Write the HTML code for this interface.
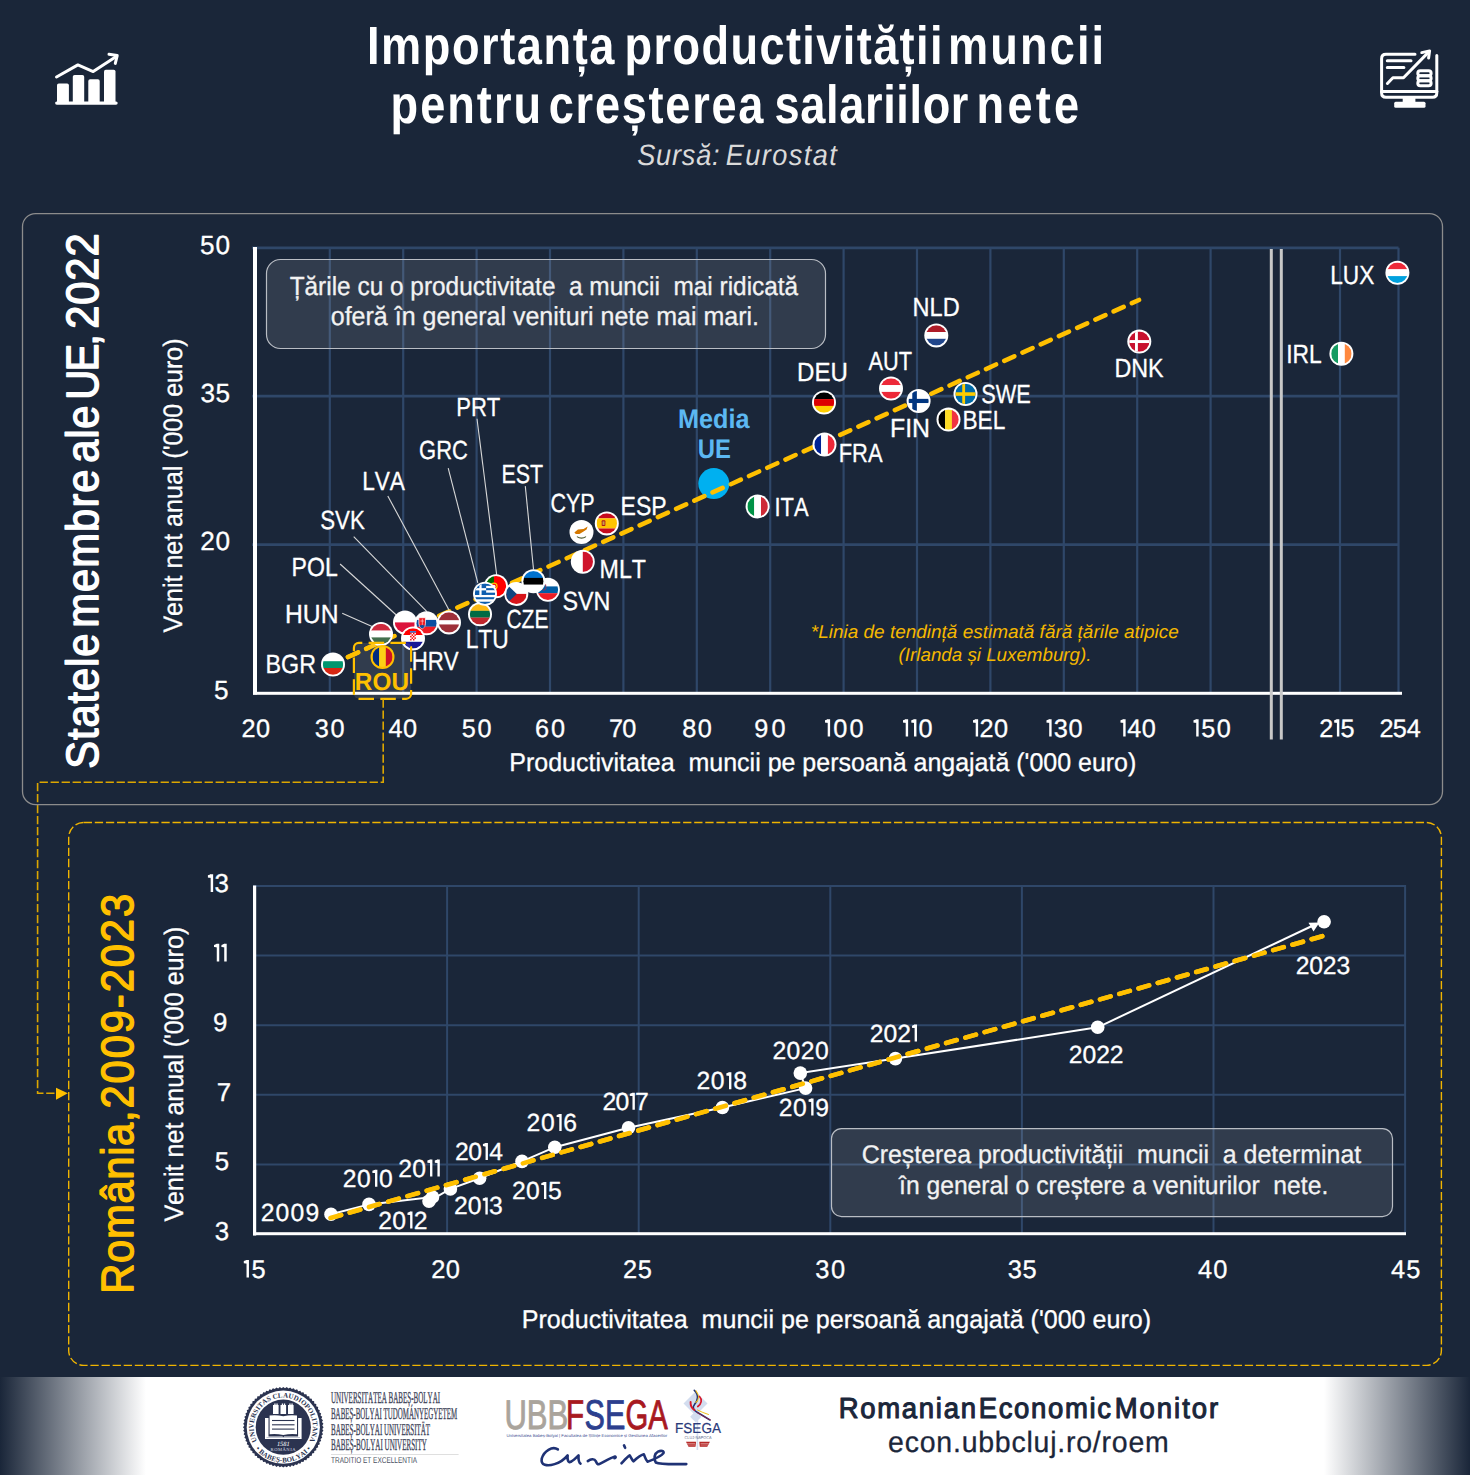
<!DOCTYPE html>
<html><head><meta charset="utf-8"><title>Importanța productivității muncii</title>
<style>html,body{margin:0;padding:0;background:#1a2639;width:1470px;height:1475px;overflow:hidden}</style>
</head><body>
<svg width="1470" height="1475" viewBox="0 0 1470 1475" style="display:block;font-family:'Liberation Sans', sans-serif;font-kerning:none" text-rendering="geometricPrecision">
<defs><clipPath id="fc" clipPathUnits="userSpaceOnUse"><circle r="1"/></clipPath>
<linearGradient id="fl" x1="0" x2="1" y1="0" y2="0"><stop offset="0" stop-color="#1a2639"/><stop offset="1" stop-color="#ffffff"/></linearGradient>
<linearGradient id="fr" x1="0" x2="1" y1="0" y2="0"><stop offset="0" stop-color="#ffffff"/><stop offset="1" stop-color="#1a2639"/></linearGradient>
<clipPath id="euclip"><circle cx="713.8" cy="483.6" r="15.5"/></clipPath><clipPath id="rouclip"><rect x="340" y="641" width="30" height="30"/></clipPath></defs>
<rect width="1470" height="1475" fill="#1a2639"/>
<text transform="translate(366.98 63.60) scale(0.840 1)" x="0" y="0" font-size="53.78" font-weight="bold" font-style="normal" fill="#fff" letter-spacing="1.854" style="white-space:pre">Importanța</text>
<text transform="translate(624.62 63.60) scale(0.840 1)" x="0" y="0" font-size="53.78" font-weight="bold" font-style="normal" fill="#fff" letter-spacing="1.642" style="white-space:pre">productivității</text>
<text transform="translate(948.02 63.60) scale(0.840 1)" x="0" y="0" font-size="53.78" font-weight="bold" font-style="normal" fill="#fff" letter-spacing="2.522" style="white-space:pre">muncii</text>
<text transform="translate(390.62 123.00) scale(0.840 1)" x="0" y="0" font-size="53.78" font-weight="bold" font-style="normal" fill="#fff" letter-spacing="2.363" style="white-space:pre">pentru</text>
<text transform="translate(548.74 123.00) scale(0.840 1)" x="0" y="0" font-size="53.78" font-weight="bold" font-style="normal" fill="#fff" letter-spacing="2.058" style="white-space:pre">creșterea</text>
<text transform="translate(774.61 123.00) scale(0.840 1)" x="0" y="0" font-size="53.78" font-weight="bold" font-style="normal" fill="#fff" letter-spacing="0.733" style="white-space:pre">salariilor</text>
<text transform="translate(976.52 123.00) scale(0.840 1)" x="0" y="0" font-size="53.78" font-weight="bold" font-style="normal" fill="#fff" letter-spacing="3.903" style="white-space:pre">nete</text>
<text transform="translate(637.23 165.00) scale(0.920 1)" x="0" y="0" font-size="29.51" font-weight="normal" font-style="italic" fill="#dadada" letter-spacing="0.848" style="white-space:pre">Sursă:</text>
<text transform="translate(725.66 165.00) scale(0.920 1)" x="0" y="0" font-size="29.51" font-weight="normal" font-style="italic" fill="#dadada" letter-spacing="1.553" style="white-space:pre">Eurostat</text>
<g fill="#fff">
<rect x="55.1" y="101.4" width="62.6" height="3.4" rx="1.7"/>
<rect x="57.0" y="83.4" width="11.9" height="19.6" rx="1.8"/>
<rect x="72.8" y="74.9" width="11.4" height="28.1" rx="1.8"/>
<rect x="88.3" y="79.3" width="11.4" height="23.7" rx="1.8"/>
<rect x="104.0" y="69.8" width="11.5" height="33.2" rx="1.8"/>
</g>
<g fill="none" stroke="#fff" stroke-width="3" stroke-linecap="round" stroke-linejoin="round">
<polyline points="56.5,77 77.9,64.9 93.2,71.6 115.5,57"/>
<polyline points="109,54.2 117.2,55.6 115.3,63.4"/>
</g>
<g fill="none" stroke="#fff" stroke-width="3" stroke-linecap="round" stroke-linejoin="round">
<path d="M1415 54.3 H1386 Q1381.6 54.3 1381.6 58.7 V93 Q1381.6 97.3 1386 97.3 H1432.5 Q1436.8 97.3 1436.8 93 V55.5"/>
<path d="M1381.6 91.4 H1436.8"/>
<path d="M1387.3 60.7 H1411 M1387.3 67.5 H1403.9"/>
<polyline points="1387.4,83.5 1392.9,77.8 1403.5,77.8 1428.3,52.4"/>
<polyline points="1421.8,52.6 1429.6,50.9 1428.6,58"/>
<rect x="1417.8" y="70.8" width="13.3" height="5" rx="2.5"/>
<rect x="1417.8" y="75.8" width="13.3" height="5" rx="2.5"/>
<rect x="1417.8" y="80.8" width="13.3" height="5" rx="2.5"/>
</g>
<rect x="1402.7" y="98" width="12.7" height="5" fill="#fff"/>
<rect x="1394.2" y="101.8" width="31.3" height="6" rx="1.5" fill="#fff"/>
<g stroke="#2f4769" stroke-width="2.7">
<line x1="252" x2="1398.5" y1="247.80" y2="247.80"/>
<line x1="252" x2="1398.5" y1="396.17" y2="396.17"/>
<line x1="252" x2="1398.5" y1="544.53" y2="544.53"/>
</g><g stroke="#2f4769" stroke-width="2.2">
<line x1="329.80" x2="329.80" y1="247.8" y2="692"/>
<line x1="403.20" x2="403.20" y1="247.8" y2="692"/>
<line x1="476.60" x2="476.60" y1="247.8" y2="692"/>
<line x1="550.00" x2="550.00" y1="247.8" y2="692"/>
<line x1="623.40" x2="623.40" y1="247.8" y2="692"/>
<line x1="696.80" x2="696.80" y1="247.8" y2="692"/>
<line x1="770.20" x2="770.20" y1="247.8" y2="692"/>
<line x1="843.60" x2="843.60" y1="247.8" y2="692"/>
<line x1="917.00" x2="917.00" y1="247.8" y2="692"/>
<line x1="990.40" x2="990.40" y1="247.8" y2="692"/>
<line x1="1063.80" x2="1063.80" y1="247.8" y2="692"/>
<line x1="1137.20" x2="1137.20" y1="247.8" y2="692"/>
<line x1="1210.60" x2="1210.60" y1="247.8" y2="692"/>
<line x1="1340.00" x2="1340.00" y1="247.8" y2="692"/>
<line x1="1398.50" x2="1398.50" y1="247.8" y2="692"/>
</g>
<rect x="253" y="247" width="4" height="447.5" fill="#fff"/>
<rect x="253" y="691.8" width="1149" height="3" fill="#fff"/>
<rect x="266.5" y="259.5" width="559" height="89" rx="14" fill="#ffffff" fill-opacity="0.1" stroke="#b9bdc4" stroke-width="1.2"/>
<text x="289.65" y="294.50" font-size="26.16" font-weight="normal" font-style="normal" fill="#f2f2f2" stroke="#f2f2f2" stroke-width="0.30" stroke-linejoin="round" textLength="508.55" lengthAdjust="spacingAndGlyphs" style="white-space:pre">Țările cu o productivitate  a muncii  mai ridicată</text>
<text x="330.75" y="325.10" font-size="26.16" font-weight="normal" font-style="normal" fill="#f2f2f2" stroke="#f2f2f2" stroke-width="0.30" stroke-linejoin="round" textLength="428.23" lengthAdjust="spacingAndGlyphs">oferă în general venituri nete mai mari.</text>
<text x="810.79" y="638.30" font-size="18.60" font-weight="normal" font-style="italic" fill="#f5b800" textLength="368.02" lengthAdjust="spacingAndGlyphs">*Linia de tendință estimată fără țările atipice</text>
<text x="898.62" y="660.60" font-size="18.60" font-weight="normal" font-style="italic" fill="#f5b800" textLength="192.88" lengthAdjust="spacingAndGlyphs">(Irlanda și Luxemburg).</text>
<text transform="translate(199.95 253.60) scale(1.000 1)" font-size="26.16" font-weight="normal" fill="#fff" stroke="#fff" stroke-width="0.30" stroke-linejoin="round">5</text>
<text transform="translate(215.47 253.60) scale(1.000 1)" font-size="26.16" font-weight="normal" fill="#fff" stroke="#fff" stroke-width="0.30" stroke-linejoin="round">0</text>
<text transform="translate(200.60 401.97) scale(1.000 1)" font-size="26.16" font-weight="normal" fill="#fff" stroke="#fff" stroke-width="0.30" stroke-linejoin="round">3</text>
<text transform="translate(215.55 401.97) scale(1.000 1)" font-size="26.16" font-weight="normal" fill="#fff" stroke="#fff" stroke-width="0.30" stroke-linejoin="round">5</text>
<text transform="translate(200.28 550.33) scale(1.000 1)" font-size="26.16" font-weight="normal" fill="#fff" stroke="#fff" stroke-width="0.30" stroke-linejoin="round">2</text>
<text transform="translate(215.47 550.33) scale(1.000 1)" font-size="26.16" font-weight="normal" fill="#fff" stroke="#fff" stroke-width="0.30" stroke-linejoin="round">0</text>
<text transform="translate(213.95 698.70) scale(1.000 1)" font-size="26.16" font-weight="normal" fill="#fff" stroke="#fff" stroke-width="0.30" stroke-linejoin="round">5</text>
<text transform="translate(241.53 736.60) scale(1.000 1)" font-size="25.29" font-weight="normal" fill="#fff" stroke="#fff" stroke-width="0.30" stroke-linejoin="round">2</text>
<text transform="translate(255.92 736.60) scale(1.000 1)" font-size="25.29" font-weight="normal" fill="#fff" stroke="#fff" stroke-width="0.30" stroke-linejoin="round">0</text>
<text transform="translate(314.74 736.60) scale(1.000 1)" font-size="25.29" font-weight="normal" fill="#fff" stroke="#fff" stroke-width="0.30" stroke-linejoin="round">3</text>
<text transform="translate(330.42 736.60) scale(1.000 1)" font-size="25.29" font-weight="normal" fill="#fff" stroke="#fff" stroke-width="0.30" stroke-linejoin="round">0</text>
<text transform="translate(388.62 736.60) scale(1.000 1)" font-size="25.29" font-weight="normal" fill="#fff" stroke="#fff" stroke-width="0.30" stroke-linejoin="round">4</text>
<text transform="translate(403.02 736.60) scale(1.000 1)" font-size="25.29" font-weight="normal" fill="#fff" stroke="#fff" stroke-width="0.30" stroke-linejoin="round">0</text>
<text transform="translate(461.69 736.60) scale(1.000 1)" font-size="25.29" font-weight="normal" fill="#fff" stroke="#fff" stroke-width="0.30" stroke-linejoin="round">5</text>
<text transform="translate(477.52 736.60) scale(1.000 1)" font-size="25.29" font-weight="normal" fill="#fff" stroke="#fff" stroke-width="0.30" stroke-linejoin="round">0</text>
<text transform="translate(535.02 736.60) scale(1.000 1)" font-size="25.29" font-weight="normal" fill="#fff" stroke="#fff" stroke-width="0.30" stroke-linejoin="round">6</text>
<text transform="translate(551.02 736.60) scale(1.000 1)" font-size="25.29" font-weight="normal" fill="#fff" stroke="#fff" stroke-width="0.30" stroke-linejoin="round">0</text>
<text transform="translate(609.10 736.60) scale(1.000 1)" font-size="25.29" font-weight="normal" fill="#fff" stroke="#fff" stroke-width="0.30" stroke-linejoin="round">7</text>
<text transform="translate(622.32 736.60) scale(1.000 1)" font-size="25.29" font-weight="normal" fill="#fff" stroke="#fff" stroke-width="0.30" stroke-linejoin="round">0</text>
<text transform="translate(682.30 736.60) scale(1.000 1)" font-size="25.29" font-weight="normal" fill="#fff" stroke="#fff" stroke-width="0.30" stroke-linejoin="round">8</text>
<text transform="translate(697.82 736.60) scale(1.000 1)" font-size="25.29" font-weight="normal" fill="#fff" stroke="#fff" stroke-width="0.30" stroke-linejoin="round">0</text>
<text transform="translate(754.31 736.60) scale(1.000 1)" font-size="25.29" font-weight="normal" fill="#fff" stroke="#fff" stroke-width="0.30" stroke-linejoin="round">9</text>
<text transform="translate(771.62 736.60) scale(1.000 1)" font-size="25.29" font-weight="normal" fill="#fff" stroke="#fff" stroke-width="0.30" stroke-linejoin="round">0</text>
<path d="M827.71 719.20 L830.12 719.20 L830.12 736.60 L827.71 736.60 L827.71 722.68 L825.00 722.20 Z" fill="#fff"/>
<path d="M825.00 720.26 L828.01 719.20 L828.01 722.49 L825.00 722.39 Z" fill="#fff"/>
<text transform="translate(833.33 736.60) scale(1.000 1)" font-size="25.29" font-weight="normal" fill="#fff" stroke="#fff" stroke-width="0.30" stroke-linejoin="round">0</text>
<text transform="translate(849.62 736.60) scale(1.000 1)" font-size="25.29" font-weight="normal" fill="#fff" stroke="#fff" stroke-width="0.30" stroke-linejoin="round">0</text>
<path d="M905.71 719.20 L908.12 719.20 L908.12 736.60 L905.71 736.60 L905.71 722.68 L903.00 722.20 Z" fill="#fff"/>
<path d="M903.00 720.26 L906.01 719.20 L906.01 722.49 L903.00 722.39 Z" fill="#fff"/>
<path d="M914.01 719.20 L916.43 719.20 L916.43 736.60 L914.01 736.60 L914.01 722.68 L911.31 722.20 Z" fill="#fff"/>
<path d="M911.31 720.26 L914.31 719.20 L914.31 722.49 L911.31 722.39 Z" fill="#fff"/>
<text transform="translate(918.62 736.60) scale(1.000 1)" font-size="25.29" font-weight="normal" fill="#fff" stroke="#fff" stroke-width="0.30" stroke-linejoin="round">0</text>
<path d="M975.71 719.20 L978.12 719.20 L978.12 736.60 L975.71 736.60 L975.71 722.68 L973.00 722.20 Z" fill="#fff"/>
<path d="M973.00 720.26 L976.01 719.20 L976.01 722.49 L973.00 722.39 Z" fill="#fff"/>
<text transform="translate(979.58 736.60) scale(1.000 1)" font-size="25.29" font-weight="normal" fill="#fff" stroke="#fff" stroke-width="0.30" stroke-linejoin="round">2</text>
<text transform="translate(994.12 736.60) scale(1.000 1)" font-size="25.29" font-weight="normal" fill="#fff" stroke="#fff" stroke-width="0.30" stroke-linejoin="round">0</text>
<path d="M1049.21 719.20 L1051.62 719.20 L1051.62 736.60 L1049.21 736.60 L1049.21 722.68 L1046.50 722.20 Z" fill="#fff"/>
<path d="M1046.50 720.26 L1049.51 719.20 L1049.51 722.49 L1046.50 722.39 Z" fill="#fff"/>
<text transform="translate(1053.66 736.60) scale(1.000 1)" font-size="25.29" font-weight="normal" fill="#fff" stroke="#fff" stroke-width="0.30" stroke-linejoin="round">3</text>
<text transform="translate(1068.62 736.60) scale(1.000 1)" font-size="25.29" font-weight="normal" fill="#fff" stroke="#fff" stroke-width="0.30" stroke-linejoin="round">0</text>
<path d="M1123.21 719.20 L1125.62 719.20 L1125.62 736.60 L1123.21 736.60 L1123.21 722.68 L1120.50 722.20 Z" fill="#fff"/>
<path d="M1120.50 720.26 L1123.51 719.20 L1123.51 722.49 L1120.50 722.39 Z" fill="#fff"/>
<text transform="translate(1127.21 736.60) scale(1.000 1)" font-size="25.29" font-weight="normal" fill="#fff" stroke="#fff" stroke-width="0.30" stroke-linejoin="round">4</text>
<text transform="translate(1141.72 736.60) scale(1.000 1)" font-size="25.29" font-weight="normal" fill="#fff" stroke="#fff" stroke-width="0.30" stroke-linejoin="round">0</text>
<path d="M1196.21 719.20 L1198.62 719.20 L1198.62 736.60 L1196.21 736.60 L1196.21 722.68 L1193.50 722.20 Z" fill="#fff"/>
<path d="M1193.50 720.26 L1196.51 719.20 L1196.51 722.49 L1193.50 722.39 Z" fill="#fff"/>
<text transform="translate(1201.16 736.60) scale(1.000 1)" font-size="25.29" font-weight="normal" fill="#fff" stroke="#fff" stroke-width="0.30" stroke-linejoin="round">5</text>
<text transform="translate(1216.72 736.60) scale(1.000 1)" font-size="25.29" font-weight="normal" fill="#fff" stroke="#fff" stroke-width="0.30" stroke-linejoin="round">0</text>
<text transform="translate(1319.13 736.60) scale(1.000 1)" font-size="25.29" font-weight="normal" fill="#fff" stroke="#fff" stroke-width="0.30" stroke-linejoin="round">2</text>
<path d="M1336.91 719.20 L1339.33 719.20 L1339.33 736.60 L1336.91 736.60 L1336.91 722.68 L1334.20 722.20 Z" fill="#fff"/>
<path d="M1334.20 720.26 L1337.21 719.20 L1337.21 722.49 L1334.20 722.39 Z" fill="#fff"/>
<text transform="translate(1340.60 736.60) scale(1.000 1)" font-size="25.29" font-weight="normal" fill="#fff" stroke="#fff" stroke-width="0.30" stroke-linejoin="round">5</text>
<text transform="translate(1379.53 736.60) scale(1.000 1)" font-size="25.29" font-weight="normal" fill="#fff" stroke="#fff" stroke-width="0.30" stroke-linejoin="round">2</text>
<text transform="translate(1392.83 736.60) scale(1.000 1)" font-size="25.29" font-weight="normal" fill="#fff" stroke="#fff" stroke-width="0.30" stroke-linejoin="round">5</text>
<text transform="translate(1406.78 736.60) scale(1.000 1)" font-size="25.29" font-weight="normal" fill="#fff" stroke="#fff" stroke-width="0.30" stroke-linejoin="round">4</text>
<text x="509.35" y="771.40" font-size="25.73" font-weight="normal" font-style="normal" fill="#fff" stroke="#fff" stroke-width="0.30" stroke-linejoin="round" textLength="627.00" lengthAdjust="spacingAndGlyphs" style="white-space:pre">Productivitatea  muncii pe persoană angajată ('000 euro)</text>
<text transform="translate(182.00 632.50) rotate(-90)" x="-0.11" y="0" font-size="26.74" font-weight="normal" font-style="normal" fill="#fff" stroke="#fff" stroke-width="0.30" stroke-linejoin="round" textLength="294.16" lengthAdjust="spacingAndGlyphs">Venit net anual ('000 euro)</text>
<text transform="translate(98.00 768.69) rotate(-90) scale(0.920 1)" x="0" y="0" font-size="45.35" font-weight="normal" font-style="normal" fill="#fff" stroke="#fff" stroke-width="1.40" stroke-linejoin="round" letter-spacing="0.934" style="white-space:pre">Statele</text>
<text transform="translate(98.00 627.77) rotate(-90) scale(0.920 1)" x="0" y="0" font-size="45.35" font-weight="normal" font-style="normal" fill="#fff" stroke="#fff" stroke-width="1.40" stroke-linejoin="round" letter-spacing="1.155" style="white-space:pre">membre</text>
<text transform="translate(98.00 462.77) rotate(-90) scale(0.920 1)" x="0" y="0" font-size="45.35" font-weight="normal" font-style="normal" fill="#fff" stroke="#fff" stroke-width="1.40" stroke-linejoin="round" letter-spacing="0.897" style="white-space:pre">ale</text>
<text transform="translate(98.00 399.72) rotate(-90) scale(0.920 1)" x="0" y="0" font-size="45.35" font-weight="normal" font-style="normal" fill="#fff" stroke="#fff" stroke-width="1.40" stroke-linejoin="round" letter-spacing="-2.164" style="white-space:pre">UE,</text>
<text transform="translate(98.00 328.70) rotate(-90) scale(0.920 1)" x="0" y="0" font-size="45.35" font-weight="normal" font-style="normal" fill="#fff" stroke="#fff" stroke-width="1.40" stroke-linejoin="round" letter-spacing="0.899" style="white-space:pre">2022</text>
<line x1="348" y1="657" x2="1139" y2="300" stroke="#ffc000" stroke-width="4.6" stroke-dasharray="11 9" stroke-linecap="round"/>
<g stroke="#d8d8d8" stroke-width="1.1">
<line x1="342.2" y1="613.2" x2="372.1" y2="626.5"/>
<line x1="340.1" y1="564.0" x2="396.3" y2="615.0"/>
<line x1="353.7" y1="536.7" x2="426.9" y2="611.6"/>
<line x1="387.8" y1="495.9" x2="449.0" y2="609.9"/>
<line x1="448.2" y1="468.2" x2="477.8" y2="582.9"/>
<line x1="477.0" y1="418.8" x2="496.7" y2="574.9"/>
<line x1="525.3" y1="486.1" x2="533.5" y2="569.4"/>
</g>
<g transform="translate(1397.40 272.70)">
<circle r="12.00" fill="#ffffff"/>
<g transform="scale(10.200)"><g clip-path="url(#fc)"><rect x="-1" y="-1.000" width="2" height="0.677" fill="#ed2939"/><rect x="-1" y="-0.333" width="2" height="0.677" fill="#ffffff"/><rect x="-1" y="0.333" width="2" height="0.677" fill="#00a1de"/></g></g>
</g>
<g transform="translate(1341.40 353.80)">
<circle r="12.00" fill="#ffffff"/>
<g transform="scale(10.200)"><g clip-path="url(#fc)"><rect x="-1.000" y="-1" width="0.677" height="2" fill="#169b62"/><rect x="-0.333" y="-1" width="0.677" height="2" fill="#ffffff"/><rect x="0.333" y="-1" width="0.677" height="2" fill="#ff883e"/></g></g>
</g>
<g transform="translate(936.30 335.40)">
<circle r="12.00" fill="#ffffff"/>
<g transform="scale(10.200)"><g clip-path="url(#fc)"><rect x="-1" y="-1.000" width="2" height="0.677" fill="#ae1c28"/><rect x="-1" y="-0.333" width="2" height="0.677" fill="#ffffff"/><rect x="-1" y="0.333" width="2" height="0.677" fill="#21468b"/></g></g>
</g>
<g transform="translate(1139.30 341.60)">
<circle r="12.00" fill="#ffffff"/>
<g transform="scale(10.200)"><g clip-path="url(#fc)"><rect x="-1" y="-1" width="2" height="2" fill="#c8102e"/><rect x="-0.420" y="-1" width="0.280" height="2" fill="#ffffff"/><rect x="-1" y="-0.150" width="2" height="0.290" fill="#ffffff"/></g></g>
</g>
<g transform="translate(824.00 402.50)">
<circle r="12.00" fill="#ffffff"/>
<g transform="scale(10.200)"><g clip-path="url(#fc)"><rect x="-1" y="-1.000" width="2" height="0.677" fill="#000000"/><rect x="-1" y="-0.333" width="2" height="0.677" fill="#dd0000"/><rect x="-1" y="0.333" width="2" height="0.677" fill="#ffce00"/></g></g>
</g>
<g transform="translate(891.00 388.50)">
<circle r="12.00" fill="#ffffff"/>
<g transform="scale(10.200)"><g clip-path="url(#fc)"><rect x="-1" y="-1.000" width="2" height="0.677" fill="#ed2939"/><rect x="-1" y="-0.333" width="2" height="0.677" fill="#ffffff"/><rect x="-1" y="0.333" width="2" height="0.677" fill="#ed2939"/></g></g>
</g>
<g transform="translate(965.50 394.00)">
<circle r="12.00" fill="#ffffff"/>
<g transform="scale(10.200)"><g clip-path="url(#fc)"><rect x="-1" y="-1" width="2" height="2" fill="#006aa7"/><rect x="-0.320" y="-1" width="0.280" height="2" fill="#fecc00"/><rect x="-1" y="-0.170" width="2" height="0.350" fill="#fecc00"/></g></g>
</g>
<g transform="translate(918.60 401.00)">
<circle r="12.00" fill="#ffffff"/>
<g transform="scale(10.200)"><g clip-path="url(#fc)"><rect x="-1" y="-1" width="2" height="2" fill="#ffffff"/><rect x="-0.620" y="-1" width="0.450" height="2" fill="#003580"/><rect x="-1" y="-0.210" width="2" height="0.410" fill="#003580"/></g></g>
</g>
<g transform="translate(948.50 419.60)">
<circle r="12.00" fill="#ffffff"/>
<g transform="scale(10.200)"><g clip-path="url(#fc)"><rect x="-1.000" y="-1" width="0.677" height="2" fill="#000000"/><rect x="-0.333" y="-1" width="0.677" height="2" fill="#fdda24"/><rect x="0.333" y="-1" width="0.677" height="2" fill="#ef3340"/></g></g>
</g>
<g transform="translate(824.50 444.60)">
<circle r="12.00" fill="#ffffff"/>
<g transform="scale(10.200)"><g clip-path="url(#fc)"><rect x="-1.000" y="-1" width="0.677" height="2" fill="#002395"/><rect x="-0.333" y="-1" width="0.677" height="2" fill="#ffffff"/><rect x="0.333" y="-1" width="0.677" height="2" fill="#ed2939"/></g></g>
</g>
<g transform="translate(757.60 506.40)">
<circle r="12.00" fill="#ffffff"/>
<g transform="scale(10.200)"><g clip-path="url(#fc)"><rect x="-1.000" y="-1" width="0.677" height="2" fill="#009246"/><rect x="-0.333" y="-1" width="0.677" height="2" fill="#ffffff"/><rect x="0.333" y="-1" width="0.677" height="2" fill="#ce2b37"/></g></g>
</g>
<g transform="translate(606.80 523.40)">
<circle r="12.00" fill="#ffffff"/>
<g transform="scale(10.200)"><g clip-path="url(#fc)"><rect x="-1" y="-1.000" width="2" height="0.510" fill="#c60b1e"/><rect x="-1" y="-0.500" width="2" height="1.010" fill="#ffc400"/><rect x="-1" y="0.500" width="2" height="0.510" fill="#c60b1e"/><rect x="-0.5" y="-0.3" width="0.36" height="0.55" rx="0.08" fill="#ad1519"/><rect x="-0.42" y="-0.2" width="0.2" height="0.35" fill="#c8a050"/></g></g>
</g>
<g transform="translate(581.50 532.00)">
<circle r="12.00" fill="#ffffff"/>
<g transform="scale(10.200)"><g clip-path="url(#fc)"><rect x="-1" y="-1" width="2" height="2" fill="#ffffff"/><path d="M-0.7 0.05 L-0.35 -0.25 L0.2 -0.3 L0.6 -0.55 L0.5 -0.25 L0.2 -0.05 L-0.2 0.2 L-0.55 0.2 Z" fill="#d57800"/><path d="M-0.45 0.45 Q0 0.75 0.45 0.45" stroke="#4e5b31" stroke-width="0.1" fill="none"/></g></g>
</g>
<g transform="translate(582.80 561.70)">
<circle r="12.00" fill="#ffffff"/>
<g transform="scale(10.200)"><g clip-path="url(#fc)"><rect x="-1.000" y="-1" width="1.010" height="2" fill="#ffffff"/><rect x="0.000" y="-1" width="1.010" height="2" fill="#cf142b"/></g></g>
</g>
<g transform="translate(496.00 586.20)">
<circle r="12.00" fill="#ffffff"/>
<g transform="scale(10.200)"><g clip-path="url(#fc)"><rect x="-1.000" y="-1" width="0.810" height="2" fill="#006600"/><rect x="-0.200" y="-1" width="1.210" height="2" fill="#ff0000"/><circle cx="-0.2" cy="0" r="0.36" fill="#ffcc00"/><circle cx="-0.2" cy="0" r="0.24" fill="#ff0000"/><circle cx="-0.2" cy="0" r="0.15" fill="#ffffff"/></g></g>
</g>
<g transform="translate(480.00 614.20)">
<circle r="12.00" fill="#ffffff"/>
<g transform="scale(10.200)"><g clip-path="url(#fc)"><rect x="-1" y="-1.000" width="2" height="0.677" fill="#fdb913"/><rect x="-1" y="-0.333" width="2" height="0.677" fill="#006a44"/><rect x="-1" y="0.333" width="2" height="0.677" fill="#c1272d"/></g></g>
</g>
<g transform="translate(485.00 593.80)">
<circle r="12.00" fill="#ffffff"/>
<g transform="scale(10.200)"><g clip-path="url(#fc)"><rect x="-1" y="-1.000" width="2" height="0.232" fill="#0d5eaf"/><rect x="-1" y="-0.778" width="2" height="0.232" fill="#ffffff"/><rect x="-1" y="-0.556" width="2" height="0.232" fill="#0d5eaf"/><rect x="-1" y="-0.333" width="2" height="0.232" fill="#ffffff"/><rect x="-1" y="-0.111" width="2" height="0.232" fill="#0d5eaf"/><rect x="-1" y="0.111" width="2" height="0.232" fill="#ffffff"/><rect x="-1" y="0.333" width="2" height="0.232" fill="#0d5eaf"/><rect x="-1" y="0.556" width="2" height="0.232" fill="#ffffff"/><rect x="-1" y="0.778" width="2" height="0.232" fill="#0d5eaf"/><rect x="-1" y="-1" width="1.111" height="1.111" fill="#0d5eaf"/><rect x="-0.555" y="-1" width="0.222" height="1.111" fill="#ffffff"/><rect x="-1" y="-0.555" width="1.111" height="0.222" fill="#ffffff"/></g></g>
</g>
<g transform="translate(516.30 593.90)">
<circle r="12.00" fill="#ffffff"/>
<g transform="scale(10.200)"><g clip-path="url(#fc)"><rect x="-1" y="-1.000" width="2" height="1.010" fill="#ffffff"/><rect x="-1" y="0.000" width="2" height="1.010" fill="#d7141a"/><path d="M-1 -1 L0.05 0 L-1 1 Z" fill="#11457e"/></g></g>
</g>
<g transform="translate(547.90 589.80)">
<circle r="12.00" fill="#ffffff"/>
<g transform="scale(10.200)"><g clip-path="url(#fc)"><rect x="-1" y="-1.000" width="2" height="0.677" fill="#ffffff"/><rect x="-1" y="-0.333" width="2" height="0.677" fill="#005da4"/><rect x="-1" y="0.333" width="2" height="0.677" fill="#ed1c24"/><path d="M-0.6 -0.5 L-0.2 -0.5 L-0.2 -0.05 Q-0.4 0.15 -0.6 -0.05 Z" fill="#005da4" stroke="#ed1c24" stroke-width="0.05"/></g></g>
</g>
<g transform="translate(533.40 581.30)">
<circle r="12.00" fill="#ffffff"/>
<g transform="scale(10.200)"><g clip-path="url(#fc)"><rect x="-1" y="-1.000" width="2" height="0.677" fill="#0072ce"/><rect x="-1" y="-0.333" width="2" height="0.677" fill="#000000"/><rect x="-1" y="0.333" width="2" height="0.677" fill="#ffffff"/></g></g>
</g>
<g transform="translate(449.00 622.40)">
<circle r="12.00" fill="#ffffff"/>
<g transform="scale(10.200)"><g clip-path="url(#fc)"><rect x="-1" y="-1.000" width="2" height="0.810" fill="#9e3039"/><rect x="-1" y="-0.200" width="2" height="0.410" fill="#ffffff"/><rect x="-1" y="0.200" width="2" height="0.810" fill="#9e3039"/></g></g>
</g>
<g transform="translate(405.00 622.40)">
<circle r="12.00" fill="#ffffff"/>
<g transform="scale(10.200)"><g clip-path="url(#fc)"><rect x="-1" y="-1.000" width="2" height="1.010" fill="#ffffff"/><rect x="-1" y="0.000" width="2" height="1.010" fill="#dc143c"/></g></g>
</g>
<g transform="translate(426.50 623.30)">
<circle r="12.00" fill="#ffffff"/>
<g transform="scale(10.200)"><g clip-path="url(#fc)"><rect x="-1" y="-1.000" width="2" height="0.677" fill="#ffffff"/><rect x="-1" y="-0.333" width="2" height="0.677" fill="#0b4ea2"/><rect x="-1" y="0.333" width="2" height="0.677" fill="#ee1c25"/><path d="M-0.75 -0.55 L-0.1 -0.55 L-0.1 0.05 Q-0.1 0.4 -0.425 0.55 Q-0.75 0.4 -0.75 0.05 Z" fill="#ee1c25" stroke="#ffffff" stroke-width="0.07"/><path d="M-0.45 -0.45 L-0.4 -0.45 L-0.4 0.2 L-0.45 0.2 Z M-0.6 -0.25 L-0.25 -0.25 L-0.25 -0.2 L-0.6 -0.2 Z" fill="#ffffff"/><path d="M-0.7 0.25 Q-0.425 0.1 -0.15 0.25 Q-0.3 0.5 -0.425 0.5 Q-0.55 0.5 -0.7 0.25 Z" fill="#0b4ea2"/></g></g>
</g>
<g transform="translate(413.00 638.40)">
<circle r="12.00" fill="#ffffff"/>
<g transform="scale(10.200)"><g clip-path="url(#fc)"><rect x="-1" y="-1.000" width="2" height="0.677" fill="#ff0000"/><rect x="-1" y="-0.333" width="2" height="0.677" fill="#ffffff"/><rect x="-1" y="0.333" width="2" height="0.677" fill="#171796"/><rect x="-0.28" y="-0.55" width="0.56" height="0.75" fill="#ffffff"/><rect x="-0.280" y="-0.550" width="0.14" height="0.15" fill="#ff0000"/><rect x="-0.280" y="-0.250" width="0.14" height="0.15" fill="#ff0000"/><rect x="-0.280" y="0.050" width="0.14" height="0.15" fill="#ff0000"/><rect x="-0.140" y="-0.400" width="0.14" height="0.15" fill="#ff0000"/><rect x="-0.140" y="-0.100" width="0.14" height="0.15" fill="#ff0000"/><rect x="0.000" y="-0.550" width="0.14" height="0.15" fill="#ff0000"/><rect x="0.000" y="-0.250" width="0.14" height="0.15" fill="#ff0000"/><rect x="0.000" y="0.050" width="0.14" height="0.15" fill="#ff0000"/><rect x="0.140" y="-0.400" width="0.14" height="0.15" fill="#ff0000"/><rect x="0.140" y="-0.100" width="0.14" height="0.15" fill="#ff0000"/><rect x="-0.3" y="-0.72" width="0.6" height="0.15" fill="#3a7dd6"/></g></g>
</g>
<g transform="translate(381.00 634.00)">
<circle r="12.00" fill="#ffffff"/>
<g transform="scale(10.200)"><g clip-path="url(#fc)"><rect x="-1" y="-1.000" width="2" height="0.677" fill="#cd2a3e"/><rect x="-1" y="-0.333" width="2" height="0.677" fill="#ffffff"/><rect x="-1" y="0.333" width="2" height="0.677" fill="#436f4d"/></g></g>
</g>
<g transform="translate(333.00 664.60)">
<circle r="12.00" fill="#ffffff"/>
<g transform="scale(10.200)"><g clip-path="url(#fc)"><rect x="-1" y="-1.000" width="2" height="0.677" fill="#ffffff"/><rect x="-1" y="-0.333" width="2" height="0.677" fill="#00966e"/><rect x="-1" y="0.333" width="2" height="0.677" fill="#d62612"/></g></g>
</g>
<rect x="353.9" y="642.9" width="57.2" height="55.9" rx="5" fill="#ffffff" fill-opacity="0.1" stroke="#ffc000" stroke-width="2.2" stroke-dasharray="15.5 6.3" stroke-dashoffset="12.1"/>
<line x1="348" y1="657" x2="1139" y2="300" stroke="#ffc000" stroke-width="4.6" stroke-dasharray="11 9" stroke-linecap="round" clip-path="url(#rouclip)"/>
<g transform="translate(382.50 656.90)">
<circle r="12.00" fill="#ffc000"/>
<g transform="scale(10.000)"><g clip-path="url(#fc)"><rect x="-1.000" y="-1" width="0.677" height="2" fill="#002b7f"/><rect x="-0.333" y="-1" width="0.677" height="2" fill="#fcd116"/><rect x="0.333" y="-1" width="0.677" height="2" fill="#ce1126"/></g></g>
</g>
<circle cx="713.8" cy="483.6" r="15.5" fill="#00b0f0"/>
<line x1="348" y1="657" x2="1139" y2="300" stroke="#ffc000" stroke-width="4.6" stroke-dasharray="11 9" stroke-linecap="round" clip-path="url(#euclip)"/>
<text x="1330.14" y="283.60" font-size="26.16" font-weight="normal" font-style="normal" fill="#fff" stroke="#fff" stroke-width="0.30" stroke-linejoin="round" textLength="44.14" lengthAdjust="spacingAndGlyphs">LUX</text>
<text x="1286.19" y="363.10" font-size="26.16" font-weight="normal" font-style="normal" fill="#fff" stroke="#fff" stroke-width="0.30" stroke-linejoin="round" textLength="35.57" lengthAdjust="spacingAndGlyphs">IRL</text>
<text x="912.57" y="315.50" font-size="26.16" font-weight="normal" font-style="normal" fill="#fff" stroke="#fff" stroke-width="0.30" stroke-linejoin="round" textLength="47.06" lengthAdjust="spacingAndGlyphs">NLD</text>
<text x="1114.49" y="377.40" font-size="26.16" font-weight="normal" font-style="normal" fill="#fff" stroke="#fff" stroke-width="0.30" stroke-linejoin="round" textLength="49.17" lengthAdjust="spacingAndGlyphs">DNK</text>
<text x="868.46" y="370.00" font-size="26.16" font-weight="normal" font-style="normal" fill="#fff" stroke="#fff" stroke-width="0.30" stroke-linejoin="round" textLength="43.54" lengthAdjust="spacingAndGlyphs">AUT</text>
<text x="797.03" y="381.00" font-size="26.16" font-weight="normal" font-style="normal" fill="#fff" stroke="#fff" stroke-width="0.30" stroke-linejoin="round" textLength="50.83" lengthAdjust="spacingAndGlyphs">DEU</text>
<text x="981.31" y="402.90" font-size="26.16" font-weight="normal" font-style="normal" fill="#fff" stroke="#fff" stroke-width="0.30" stroke-linejoin="round" textLength="49.52" lengthAdjust="spacingAndGlyphs">SWE</text>
<text x="889.96" y="437.20" font-size="26.16" font-weight="normal" font-style="normal" fill="#fff" stroke="#fff" stroke-width="0.30" stroke-linejoin="round" textLength="40.07" lengthAdjust="spacingAndGlyphs">FIN</text>
<text x="962.44" y="429.00" font-size="26.16" font-weight="normal" font-style="normal" fill="#fff" stroke="#fff" stroke-width="0.30" stroke-linejoin="round" textLength="42.81" lengthAdjust="spacingAndGlyphs">BEL</text>
<text x="838.70" y="461.50" font-size="26.16" font-weight="normal" font-style="normal" fill="#fff" stroke="#fff" stroke-width="0.30" stroke-linejoin="round" textLength="43.84" lengthAdjust="spacingAndGlyphs">FRA</text>
<text x="774.48" y="515.50" font-size="26.16" font-weight="normal" font-style="normal" fill="#fff" stroke="#fff" stroke-width="0.30" stroke-linejoin="round" textLength="34.06" lengthAdjust="spacingAndGlyphs">ITA</text>
<text x="550.41" y="512.00" font-size="26.16" font-weight="normal" font-style="normal" fill="#fff" stroke="#fff" stroke-width="0.30" stroke-linejoin="round" textLength="44.23" lengthAdjust="spacingAndGlyphs">CYP</text>
<text x="620.61" y="514.50" font-size="26.16" font-weight="normal" font-style="normal" fill="#fff" stroke="#fff" stroke-width="0.30" stroke-linejoin="round" textLength="46.11" lengthAdjust="spacingAndGlyphs">ESP</text>
<text x="599.60" y="577.50" font-size="26.16" font-weight="normal" font-style="normal" fill="#fff" stroke="#fff" stroke-width="0.30" stroke-linejoin="round" textLength="46.44" lengthAdjust="spacingAndGlyphs">MLT</text>
<text x="562.44" y="610.00" font-size="26.16" font-weight="normal" font-style="normal" fill="#fff" stroke="#fff" stroke-width="0.30" stroke-linejoin="round" textLength="47.96" lengthAdjust="spacingAndGlyphs">SVN</text>
<text x="506.43" y="627.50" font-size="26.16" font-weight="normal" font-style="normal" fill="#fff" stroke="#fff" stroke-width="0.30" stroke-linejoin="round" textLength="41.97" lengthAdjust="spacingAndGlyphs">CZE</text>
<text x="465.63" y="648.00" font-size="26.16" font-weight="normal" font-style="normal" fill="#fff" stroke="#fff" stroke-width="0.30" stroke-linejoin="round" textLength="43.13" lengthAdjust="spacingAndGlyphs">LTU</text>
<text x="411.68" y="670.00" font-size="26.16" font-weight="normal" font-style="normal" fill="#fff" stroke="#fff" stroke-width="0.30" stroke-linejoin="round" textLength="46.92" lengthAdjust="spacingAndGlyphs">HRV</text>
<text x="265.59" y="673.00" font-size="26.16" font-weight="normal" font-style="normal" fill="#fff" stroke="#fff" stroke-width="0.30" stroke-linejoin="round" textLength="50.49" lengthAdjust="spacingAndGlyphs">BGR</text>
<text x="284.97" y="622.50" font-size="26.16" font-weight="normal" font-style="normal" fill="#fff" stroke="#fff" stroke-width="0.30" stroke-linejoin="round" textLength="53.54" lengthAdjust="spacingAndGlyphs">HUN</text>
<text x="291.61" y="576.00" font-size="26.16" font-weight="normal" font-style="normal" fill="#fff" stroke="#fff" stroke-width="0.30" stroke-linejoin="round" textLength="46.16" lengthAdjust="spacingAndGlyphs">POL</text>
<text x="320.19" y="529.40" font-size="26.16" font-weight="normal" font-style="normal" fill="#fff" stroke="#fff" stroke-width="0.30" stroke-linejoin="round" textLength="44.56" lengthAdjust="spacingAndGlyphs">SVK</text>
<text x="362.14" y="490.20" font-size="26.16" font-weight="normal" font-style="normal" fill="#fff" stroke="#fff" stroke-width="0.30" stroke-linejoin="round" textLength="42.80" lengthAdjust="spacingAndGlyphs">LVA</text>
<text x="419.09" y="459.20" font-size="26.16" font-weight="normal" font-style="normal" fill="#fff" stroke="#fff" stroke-width="0.30" stroke-linejoin="round" textLength="48.84" lengthAdjust="spacingAndGlyphs">GRC</text>
<text x="456.19" y="415.70" font-size="26.16" font-weight="normal" font-style="normal" fill="#fff" stroke="#fff" stroke-width="0.30" stroke-linejoin="round" textLength="44.12" lengthAdjust="spacingAndGlyphs">PRT</text>
<text x="501.54" y="483.00" font-size="26.16" font-weight="normal" font-style="normal" fill="#fff" stroke="#fff" stroke-width="0.30" stroke-linejoin="round" textLength="41.65" lengthAdjust="spacingAndGlyphs">EST</text>
<text x="678.01" y="428.30" font-size="27.04" font-weight="bold" font-style="normal" fill="#5cb8f2" textLength="71.43" lengthAdjust="spacingAndGlyphs">Media</text>
<text x="697.77" y="458.40" font-size="27.04" font-weight="bold" font-style="normal" fill="#5cb8f2" textLength="33.17" lengthAdjust="spacingAndGlyphs">UE</text>
<text x="354.87" y="689.80" font-size="24.71" font-weight="bold" font-style="normal" fill="#ffc000" textLength="54.12" lengthAdjust="spacingAndGlyphs">ROU</text>
<rect x="1269.8" y="249" width="3" height="490.5" fill="#c8c8c8"/>
<rect x="1279.8" y="249" width="3" height="490.5" fill="#c8c8c8"/>
<path d="M383.2 699.5 V782.2 H37.6 V1093.3 H57" fill="none" stroke="#dca600" stroke-width="1.6" stroke-dasharray="8.3 2.7"/>
<path d="M56 1087.8 L67.8 1093.3 L56 1099.8 Z" fill="#ffc000"/>
<rect x="22.5" y="213.6" width="1420" height="591" rx="13" fill="none" stroke="#8c8c8c" stroke-width="1.3"/>
<rect x="68.7" y="822.5" width="1372.7" height="542.9" rx="15" fill="none" stroke="#f0b400" stroke-width="1.4" stroke-dasharray="8.3 2.8"/>
<g stroke="#2f4769" stroke-width="2">
<line x1="253" x2="1405.5" y1="886.00" y2="886.00"/>
<line x1="253" x2="1405.5" y1="955.60" y2="955.60"/>
<line x1="253" x2="1405.5" y1="1025.20" y2="1025.20"/>
<line x1="253" x2="1405.5" y1="1094.80" y2="1094.80"/>
<line x1="253" x2="1405.5" y1="1164.40" y2="1164.40"/>
<line x1="447.10" x2="447.10" y1="885" y2="1233"/>
<line x1="638.70" x2="638.70" y1="885" y2="1233"/>
<line x1="830.30" x2="830.30" y1="885" y2="1233"/>
<line x1="1021.90" x2="1021.90" y1="885" y2="1233"/>
<line x1="1213.50" x2="1213.50" y1="885" y2="1233"/>
<line x1="1405.10" x2="1405.10" y1="885" y2="1233"/>
</g>
<rect x="253" y="885.5" width="3.2" height="350" fill="#fff"/>
<rect x="253" y="1232.2" width="1153" height="3" fill="#fff"/>
<rect x="831.5" y="1128.6" width="561.0" height="88" rx="10" fill="#ffffff" fill-opacity="0.1" stroke="#b9bdc4" stroke-width="1.2"/>
<text x="861.74" y="1163.40" font-size="25.58" font-weight="normal" font-style="normal" fill="#f2f2f2" stroke="#f2f2f2" stroke-width="0.30" stroke-linejoin="round" textLength="499.45" lengthAdjust="spacingAndGlyphs" style="white-space:pre">Creșterea productivității  muncii  a determinat</text>
<text x="899.04" y="1194.00" font-size="25.58" font-weight="normal" font-style="normal" fill="#f2f2f2" stroke="#f2f2f2" stroke-width="0.30" stroke-linejoin="round" textLength="429.21" lengthAdjust="spacingAndGlyphs" style="white-space:pre">în general o creștere a veniturilor  nete.</text>
<path d="M210.67 874.20 L213.14 874.20 L213.14 892.00 L210.67 892.00 L210.67 877.76 L207.90 877.27 Z" fill="#fff"/>
<path d="M207.90 875.29 L210.97 874.20 L210.97 877.56 L207.90 877.46 Z" fill="#fff"/>
<text transform="translate(214.55 892.00) scale(1.000 1)" font-size="25.87" font-weight="normal" fill="#fff" stroke="#fff" stroke-width="0.30" stroke-linejoin="round">3</text>
<path d="M216.77 943.80 L219.24 943.80 L219.24 961.60 L216.77 961.60 L216.77 947.36 L214.00 946.87 Z" fill="#fff"/>
<path d="M214.00 944.89 L217.07 943.80 L217.07 947.16 L214.00 947.06 Z" fill="#fff"/>
<path d="M224.23 943.80 L226.70 943.80 L226.70 961.60 L224.23 961.60 L224.23 947.36 L221.46 946.87 Z" fill="#fff"/>
<path d="M221.46 944.89 L224.53 943.80 L224.53 947.16 L221.46 947.06 Z" fill="#fff"/>
<text transform="translate(212.99 1031.20) scale(1.000 1)" font-size="25.87" font-weight="normal" fill="#fff" stroke="#fff" stroke-width="0.30" stroke-linejoin="round">9</text>
<text transform="translate(216.67 1100.80) scale(1.000 1)" font-size="25.87" font-weight="normal" fill="#fff" stroke="#fff" stroke-width="0.30" stroke-linejoin="round">7</text>
<text transform="translate(214.66 1170.40) scale(1.000 1)" font-size="25.87" font-weight="normal" fill="#fff" stroke="#fff" stroke-width="0.30" stroke-linejoin="round">5</text>
<text transform="translate(214.71 1240.00) scale(1.000 1)" font-size="25.87" font-weight="normal" fill="#fff" stroke="#fff" stroke-width="0.30" stroke-linejoin="round">3</text>
<path d="M246.52 1260.00 L248.95 1260.00 L248.95 1277.50 L246.52 1277.50 L246.52 1263.50 L243.80 1263.01 Z" fill="#fff"/>
<path d="M243.80 1261.07 L246.82 1260.00 L246.82 1263.31 L243.80 1263.21 Z" fill="#fff"/>
<text transform="translate(251.52 1277.50) scale(1.000 1)" font-size="25.44" font-weight="normal" fill="#fff" stroke="#fff" stroke-width="0.30" stroke-linejoin="round">5</text>
<text transform="translate(431.32 1277.50) scale(1.000 1)" font-size="25.44" font-weight="normal" fill="#fff" stroke="#fff" stroke-width="0.30" stroke-linejoin="round">2</text>
<text transform="translate(445.85 1277.50) scale(1.000 1)" font-size="25.44" font-weight="normal" fill="#fff" stroke="#fff" stroke-width="0.30" stroke-linejoin="round">0</text>
<text transform="translate(622.92 1277.50) scale(1.000 1)" font-size="25.44" font-weight="normal" fill="#fff" stroke="#fff" stroke-width="0.30" stroke-linejoin="round">2</text>
<text transform="translate(637.82 1277.50) scale(1.000 1)" font-size="25.44" font-weight="normal" fill="#fff" stroke="#fff" stroke-width="0.30" stroke-linejoin="round">5</text>
<text transform="translate(815.33 1277.50) scale(1.000 1)" font-size="25.44" font-weight="normal" fill="#fff" stroke="#fff" stroke-width="0.30" stroke-linejoin="round">3</text>
<text transform="translate(830.95 1277.50) scale(1.000 1)" font-size="25.44" font-weight="normal" fill="#fff" stroke="#fff" stroke-width="0.30" stroke-linejoin="round">0</text>
<text transform="translate(1007.73 1277.50) scale(1.000 1)" font-size="25.44" font-weight="normal" fill="#fff" stroke="#fff" stroke-width="0.30" stroke-linejoin="round">3</text>
<text transform="translate(1022.62 1277.50) scale(1.000 1)" font-size="25.44" font-weight="normal" fill="#fff" stroke="#fff" stroke-width="0.30" stroke-linejoin="round">5</text>
<text transform="translate(1198.02 1277.50) scale(1.000 1)" font-size="25.44" font-weight="normal" fill="#fff" stroke="#fff" stroke-width="0.30" stroke-linejoin="round">4</text>
<text transform="translate(1213.35 1277.50) scale(1.000 1)" font-size="25.44" font-weight="normal" fill="#fff" stroke="#fff" stroke-width="0.30" stroke-linejoin="round">0</text>
<text transform="translate(1390.92 1277.50) scale(1.000 1)" font-size="25.44" font-weight="normal" fill="#fff" stroke="#fff" stroke-width="0.30" stroke-linejoin="round">4</text>
<text transform="translate(1406.32 1277.50) scale(1.000 1)" font-size="25.44" font-weight="normal" fill="#fff" stroke="#fff" stroke-width="0.30" stroke-linejoin="round">5</text>
<text x="521.74" y="1327.60" font-size="25.73" font-weight="normal" font-style="normal" fill="#fff" stroke="#fff" stroke-width="0.30" stroke-linejoin="round" textLength="629.31" lengthAdjust="spacingAndGlyphs" style="white-space:pre">Productivitatea  muncii pe persoană angajată ('000 euro)</text>
<text transform="translate(182.60 1221.50) rotate(-90)" x="-0.11" y="0" font-size="26.74" font-weight="normal" font-style="normal" fill="#fff" stroke="#fff" stroke-width="0.30" stroke-linejoin="round" textLength="294.87" lengthAdjust="spacingAndGlyphs">Venit net anual ('000 euro)</text>
<text transform="translate(132.80 1293.72) rotate(-90) scale(0.920 1)" x="0" y="0" font-size="45.35" font-weight="normal" font-style="normal" fill="#ffc000" stroke="#ffc000" stroke-width="1.40" stroke-linejoin="round" letter-spacing="0.732" style="white-space:pre">România,</text>
<text transform="translate(132.80 1108.50) rotate(-90) scale(0.920 1)" x="0" y="0" font-size="45.35" font-weight="normal" font-style="normal" fill="#ffc000" stroke="#ffc000" stroke-width="1.40" stroke-linejoin="round" letter-spacing="2.053" style="white-space:pre">2009-2023</text>
<line x1="330.5" y1="1218" x2="1323" y2="936" stroke="#ffc000" stroke-width="4.6" stroke-dasharray="11 9" stroke-linecap="round"/>
<polyline points="331.0,1214.3 369.0,1204.4 432.5,1197.0 429.0,1201.1 450.4,1188.9 479.6,1178.2 522.0,1161.4 554.8,1147.2 628.5,1127.8 722.4,1107.5 805.6,1088.1 800.3,1073.1 895.4,1058.6 1097.7,1027.3" fill="none" stroke="#fff" stroke-width="2"/>
<line x1="1097.7" y1="1027.3" x2="1312" y2="926" stroke="#fff" stroke-width="2"/>
<path d="M1319.5 922.5 L1308.5 922.8 L1313.5 931.5 Z" fill="#fff"/>
<circle cx="331.0" cy="1214.3" r="6.8" fill="#fff"/>
<circle cx="369.0" cy="1204.4" r="6.8" fill="#fff"/>
<circle cx="432.5" cy="1197.0" r="6.8" fill="#fff"/>
<circle cx="429.0" cy="1201.1" r="6.8" fill="#fff"/>
<circle cx="450.4" cy="1188.9" r="6.8" fill="#fff"/>
<circle cx="479.6" cy="1178.2" r="6.8" fill="#fff"/>
<circle cx="522.0" cy="1161.4" r="6.8" fill="#fff"/>
<circle cx="554.8" cy="1147.2" r="6.8" fill="#fff"/>
<circle cx="628.5" cy="1127.8" r="6.8" fill="#fff"/>
<circle cx="722.4" cy="1107.5" r="6.8" fill="#fff"/>
<circle cx="805.6" cy="1088.1" r="6.8" fill="#fff"/>
<circle cx="800.3" cy="1073.1" r="6.8" fill="#fff"/>
<circle cx="895.4" cy="1058.6" r="6.8" fill="#fff"/>
<circle cx="1097.7" cy="1027.3" r="6.8" fill="#fff"/>
<circle cx="1324.1" cy="921.8" r="6.8" fill="#fff"/>
<line x1="330.5" y1="1218" x2="1323" y2="936" stroke="#ffc000" stroke-width="4.6" stroke-dasharray="11 9" stroke-linecap="round"/>
<text transform="translate(260.76 1221.00) scale(1.000 1)" font-size="24.71" font-weight="normal" fill="#fff" stroke="#fff" stroke-width="0.30" stroke-linejoin="round">2</text>
<text transform="translate(275.53 1221.00) scale(1.000 1)" font-size="24.71" font-weight="normal" fill="#fff" stroke="#fff" stroke-width="0.30" stroke-linejoin="round">0</text>
<text transform="translate(290.57 1221.00) scale(1.000 1)" font-size="24.71" font-weight="normal" fill="#fff" stroke="#fff" stroke-width="0.30" stroke-linejoin="round">0</text>
<text transform="translate(305.43 1221.00) scale(1.000 1)" font-size="24.71" font-weight="normal" fill="#fff" stroke="#fff" stroke-width="0.30" stroke-linejoin="round">9</text>
<text transform="translate(342.66 1186.70) scale(1.000 1)" font-size="24.71" font-weight="normal" fill="#fff" stroke="#fff" stroke-width="0.30" stroke-linejoin="round">2</text>
<text transform="translate(356.90 1186.70) scale(1.000 1)" font-size="24.71" font-weight="normal" fill="#fff" stroke="#fff" stroke-width="0.30" stroke-linejoin="round">0</text>
<path d="M375.02 1169.70 L377.38 1169.70 L377.38 1186.70 L375.02 1186.70 L375.02 1173.10 L372.38 1172.63 Z" fill="#fff"/>
<path d="M372.38 1170.74 L375.32 1169.70 L375.32 1172.91 L372.38 1172.82 Z" fill="#fff"/>
<text transform="translate(379.12 1186.70) scale(1.000 1)" font-size="24.71" font-weight="normal" fill="#fff" stroke="#fff" stroke-width="0.30" stroke-linejoin="round">0</text>
<text transform="translate(398.26 1176.50) scale(1.000 1)" font-size="24.71" font-weight="normal" fill="#fff" stroke="#fff" stroke-width="0.30" stroke-linejoin="round">2</text>
<text transform="translate(412.20 1176.50) scale(1.000 1)" font-size="24.71" font-weight="normal" fill="#fff" stroke="#fff" stroke-width="0.30" stroke-linejoin="round">0</text>
<path d="M430.03 1159.50 L432.39 1159.50 L432.39 1176.50 L430.03 1176.50 L430.03 1162.90 L427.38 1162.43 Z" fill="#fff"/>
<path d="M427.38 1160.54 L430.33 1159.50 L430.33 1162.71 L427.38 1162.62 Z" fill="#fff"/>
<path d="M437.44 1159.50 L439.80 1159.50 L439.80 1176.50 L437.44 1176.50 L437.44 1162.90 L434.79 1162.43 Z" fill="#fff"/>
<path d="M434.79 1160.54 L437.74 1159.50 L437.74 1162.71 L434.79 1162.62 Z" fill="#fff"/>
<text transform="translate(378.26 1228.60) scale(1.000 1)" font-size="24.71" font-weight="normal" fill="#fff" stroke="#fff" stroke-width="0.30" stroke-linejoin="round">2</text>
<text transform="translate(392.25 1228.60) scale(1.000 1)" font-size="24.71" font-weight="normal" fill="#fff" stroke="#fff" stroke-width="0.30" stroke-linejoin="round">0</text>
<path d="M410.13 1211.60 L412.49 1211.60 L412.49 1228.60 L410.13 1228.60 L410.13 1215.00 L407.48 1214.53 Z" fill="#fff"/>
<path d="M407.48 1212.64 L410.43 1211.60 L410.43 1214.81 L407.48 1214.72 Z" fill="#fff"/>
<text transform="translate(413.70 1228.60) scale(1.000 1)" font-size="24.71" font-weight="normal" fill="#fff" stroke="#fff" stroke-width="0.30" stroke-linejoin="round">2</text>
<text transform="translate(453.96 1214.40) scale(1.000 1)" font-size="24.71" font-weight="normal" fill="#fff" stroke="#fff" stroke-width="0.30" stroke-linejoin="round">2</text>
<text transform="translate(467.73 1214.40) scale(1.000 1)" font-size="24.71" font-weight="normal" fill="#fff" stroke="#fff" stroke-width="0.30" stroke-linejoin="round">0</text>
<path d="M485.39 1197.40 L487.75 1197.40 L487.75 1214.40 L485.39 1214.40 L485.39 1200.80 L482.74 1200.33 Z" fill="#fff"/>
<path d="M482.74 1198.44 L485.69 1197.40 L485.69 1200.61 L482.74 1200.52 Z" fill="#fff"/>
<text transform="translate(489.04 1214.40) scale(1.000 1)" font-size="24.71" font-weight="normal" fill="#fff" stroke="#fff" stroke-width="0.30" stroke-linejoin="round">3</text>
<text transform="translate(454.96 1160.00) scale(1.000 1)" font-size="24.71" font-weight="normal" fill="#fff" stroke="#fff" stroke-width="0.30" stroke-linejoin="round">2</text>
<text transform="translate(468.32 1160.00) scale(1.000 1)" font-size="24.71" font-weight="normal" fill="#fff" stroke="#fff" stroke-width="0.30" stroke-linejoin="round">0</text>
<path d="M485.56 1143.00 L487.92 1143.00 L487.92 1160.00 L485.56 1160.00 L485.56 1146.40 L482.92 1145.93 Z" fill="#fff"/>
<path d="M482.92 1144.04 L485.86 1143.00 L485.86 1146.21 L482.92 1146.12 Z" fill="#fff"/>
<text transform="translate(489.18 1160.00) scale(1.000 1)" font-size="24.71" font-weight="normal" fill="#fff" stroke="#fff" stroke-width="0.30" stroke-linejoin="round">4</text>
<text transform="translate(511.96 1198.90) scale(1.000 1)" font-size="24.71" font-weight="normal" fill="#fff" stroke="#fff" stroke-width="0.30" stroke-linejoin="round">2</text>
<text transform="translate(526.03 1198.90) scale(1.000 1)" font-size="24.71" font-weight="normal" fill="#fff" stroke="#fff" stroke-width="0.30" stroke-linejoin="round">0</text>
<path d="M543.99 1181.90 L546.35 1181.90 L546.35 1198.90 L543.99 1198.90 L543.99 1185.30 L541.34 1184.83 Z" fill="#fff"/>
<path d="M541.34 1182.94 L544.29 1181.90 L544.29 1185.11 L541.34 1185.02 Z" fill="#fff"/>
<text transform="translate(547.90 1198.90) scale(1.000 1)" font-size="24.71" font-weight="normal" fill="#fff" stroke="#fff" stroke-width="0.30" stroke-linejoin="round">5</text>
<text transform="translate(526.46 1130.90) scale(1.000 1)" font-size="24.71" font-weight="normal" fill="#fff" stroke="#fff" stroke-width="0.30" stroke-linejoin="round">2</text>
<text transform="translate(540.93 1130.90) scale(1.000 1)" font-size="24.71" font-weight="normal" fill="#fff" stroke="#fff" stroke-width="0.30" stroke-linejoin="round">0</text>
<path d="M559.30 1113.90 L561.66 1113.90 L561.66 1130.90 L559.30 1130.90 L559.30 1117.30 L556.65 1116.83 Z" fill="#fff"/>
<path d="M556.65 1114.94 L559.60 1113.90 L559.60 1117.11 L556.65 1117.02 Z" fill="#fff"/>
<text transform="translate(563.34 1130.90) scale(1.000 1)" font-size="24.71" font-weight="normal" fill="#fff" stroke="#fff" stroke-width="0.30" stroke-linejoin="round">6</text>
<text transform="translate(602.46 1109.70) scale(1.000 1)" font-size="24.71" font-weight="normal" fill="#fff" stroke="#fff" stroke-width="0.30" stroke-linejoin="round">2</text>
<text transform="translate(615.52 1109.70) scale(1.000 1)" font-size="24.71" font-weight="normal" fill="#fff" stroke="#fff" stroke-width="0.30" stroke-linejoin="round">0</text>
<path d="M632.48 1092.70 L634.84 1092.70 L634.84 1109.70 L632.48 1109.70 L632.48 1096.10 L629.83 1095.63 Z" fill="#fff"/>
<path d="M629.83 1093.74 L632.78 1092.70 L632.78 1095.91 L629.83 1095.82 Z" fill="#fff"/>
<text transform="translate(635.10 1109.70) scale(1.000 1)" font-size="24.71" font-weight="normal" fill="#fff" stroke="#fff" stroke-width="0.30" stroke-linejoin="round">7</text>
<text transform="translate(696.46 1089.30) scale(1.000 1)" font-size="24.71" font-weight="normal" fill="#fff" stroke="#fff" stroke-width="0.30" stroke-linejoin="round">2</text>
<text transform="translate(710.80 1089.30) scale(1.000 1)" font-size="24.71" font-weight="normal" fill="#fff" stroke="#fff" stroke-width="0.30" stroke-linejoin="round">0</text>
<path d="M729.03 1072.30 L731.39 1072.30 L731.39 1089.30 L729.03 1089.30 L729.03 1075.70 L726.39 1075.23 Z" fill="#fff"/>
<path d="M726.39 1073.34 L729.33 1072.30 L729.33 1075.51 L726.39 1075.42 Z" fill="#fff"/>
<text transform="translate(733.13 1089.30) scale(1.000 1)" font-size="24.71" font-weight="normal" fill="#fff" stroke="#fff" stroke-width="0.30" stroke-linejoin="round">8</text>
<text transform="translate(778.76 1115.50) scale(1.000 1)" font-size="24.71" font-weight="normal" fill="#fff" stroke="#fff" stroke-width="0.30" stroke-linejoin="round">2</text>
<text transform="translate(793.03 1115.50) scale(1.000 1)" font-size="24.71" font-weight="normal" fill="#fff" stroke="#fff" stroke-width="0.30" stroke-linejoin="round">0</text>
<path d="M811.19 1098.50 L813.55 1098.50 L813.55 1115.50 L811.19 1115.50 L811.19 1101.90 L808.54 1101.43 Z" fill="#fff"/>
<path d="M808.54 1099.54 L811.49 1098.50 L811.49 1101.71 L808.54 1101.62 Z" fill="#fff"/>
<text transform="translate(815.13 1115.50) scale(1.000 1)" font-size="24.71" font-weight="normal" fill="#fff" stroke="#fff" stroke-width="0.30" stroke-linejoin="round">9</text>
<text transform="translate(772.46 1059.30) scale(1.000 1)" font-size="24.71" font-weight="normal" fill="#fff" stroke="#fff" stroke-width="0.30" stroke-linejoin="round">2</text>
<text transform="translate(786.61 1059.30) scale(1.000 1)" font-size="24.71" font-weight="normal" fill="#fff" stroke="#fff" stroke-width="0.30" stroke-linejoin="round">0</text>
<text transform="translate(800.77 1059.30) scale(1.000 1)" font-size="24.71" font-weight="normal" fill="#fff" stroke="#fff" stroke-width="0.30" stroke-linejoin="round">2</text>
<text transform="translate(814.92 1059.30) scale(1.000 1)" font-size="24.71" font-weight="normal" fill="#fff" stroke="#fff" stroke-width="0.30" stroke-linejoin="round">0</text>
<text transform="translate(869.76 1041.60) scale(1.000 1)" font-size="24.71" font-weight="normal" fill="#fff" stroke="#fff" stroke-width="0.30" stroke-linejoin="round">2</text>
<text transform="translate(883.51 1041.60) scale(1.000 1)" font-size="24.71" font-weight="normal" fill="#fff" stroke="#fff" stroke-width="0.30" stroke-linejoin="round">0</text>
<text transform="translate(897.27 1041.60) scale(1.000 1)" font-size="24.71" font-weight="normal" fill="#fff" stroke="#fff" stroke-width="0.30" stroke-linejoin="round">2</text>
<path d="M914.64 1024.60 L917.00 1024.60 L917.00 1041.60 L914.64 1041.60 L914.64 1028.00 L911.99 1027.53 Z" fill="#fff"/>
<path d="M911.99 1025.64 L914.94 1024.60 L914.94 1027.81 L911.99 1027.72 Z" fill="#fff"/>
<text transform="translate(1068.76 1063.30) scale(1.000 1)" font-size="24.71" font-weight="normal" fill="#fff" stroke="#fff" stroke-width="0.30" stroke-linejoin="round">2</text>
<text transform="translate(1082.53 1063.30) scale(1.000 1)" font-size="24.71" font-weight="normal" fill="#fff" stroke="#fff" stroke-width="0.30" stroke-linejoin="round">0</text>
<text transform="translate(1096.30 1063.30) scale(1.000 1)" font-size="24.71" font-weight="normal" fill="#fff" stroke="#fff" stroke-width="0.30" stroke-linejoin="round">2</text>
<text transform="translate(1109.80 1063.30) scale(1.000 1)" font-size="24.71" font-weight="normal" fill="#fff" stroke="#fff" stroke-width="0.30" stroke-linejoin="round">2</text>
<text transform="translate(1295.66 974.40) scale(1.000 1)" font-size="24.71" font-weight="normal" fill="#fff" stroke="#fff" stroke-width="0.30" stroke-linejoin="round">2</text>
<text transform="translate(1309.24 974.40) scale(1.000 1)" font-size="24.71" font-weight="normal" fill="#fff" stroke="#fff" stroke-width="0.30" stroke-linejoin="round">0</text>
<text transform="translate(1322.83 974.40) scale(1.000 1)" font-size="24.71" font-weight="normal" fill="#fff" stroke="#fff" stroke-width="0.30" stroke-linejoin="round">2</text>
<text transform="translate(1336.44 974.40) scale(1.000 1)" font-size="24.71" font-weight="normal" fill="#fff" stroke="#fff" stroke-width="0.30" stroke-linejoin="round">3</text>
<rect x="0" y="1377" width="1470" height="98" fill="#ffffff"/>
<rect x="0" y="1377" width="146" height="98" fill="url(#fl)"/>
<rect x="1324" y="1377" width="146" height="98" fill="url(#fr)"/>
<polygon points="323.60,1427.20 322.26,1428.90 323.45,1430.71 321.97,1432.29 322.99,1434.20 321.38,1435.64 322.23,1437.63 320.49,1438.93 321.17,1440.98 319.33,1442.12 319.82,1444.23 317.89,1445.21 318.20,1447.35 316.19,1448.15 316.31,1450.32 314.24,1450.94 314.17,1453.10 312.05,1453.55 311.80,1455.70 309.65,1455.95 309.20,1458.07 307.04,1458.14 306.42,1460.21 304.25,1460.09 303.45,1462.10 301.31,1461.79 300.33,1463.72 298.22,1463.23 297.08,1465.07 295.03,1464.39 293.73,1466.13 291.74,1465.28 290.30,1466.89 288.39,1465.87 286.81,1467.35 285.00,1466.16 283.30,1467.50 281.60,1466.16 279.79,1467.35 278.21,1465.87 276.30,1466.89 274.86,1465.28 272.87,1466.13 271.57,1464.39 269.52,1465.07 268.38,1463.23 266.27,1463.72 265.29,1461.79 263.15,1462.10 262.35,1460.09 260.18,1460.21 259.56,1458.14 257.40,1458.07 256.95,1455.95 254.80,1455.70 254.55,1453.55 252.43,1453.10 252.36,1450.94 250.29,1450.32 250.41,1448.15 248.40,1447.35 248.71,1445.21 246.78,1444.23 247.27,1442.12 245.43,1440.98 246.11,1438.93 244.37,1437.63 245.22,1435.64 243.61,1434.20 244.63,1432.29 243.15,1430.71 244.34,1428.90 243.00,1427.20 244.34,1425.50 243.15,1423.69 244.63,1422.11 243.61,1420.20 245.22,1418.76 244.37,1416.77 246.11,1415.47 245.43,1413.42 247.27,1412.28 246.78,1410.17 248.71,1409.19 248.40,1407.05 250.41,1406.25 250.29,1404.08 252.36,1403.46 252.43,1401.30 254.55,1400.85 254.80,1398.70 256.95,1398.45 257.40,1396.33 259.56,1396.26 260.18,1394.19 262.35,1394.31 263.15,1392.30 265.29,1392.61 266.27,1390.68 268.38,1391.17 269.52,1389.33 271.57,1390.01 272.87,1388.27 274.86,1389.12 276.30,1387.51 278.21,1388.53 279.79,1387.05 281.60,1388.24 283.30,1386.90 285.00,1388.24 286.81,1387.05 288.39,1388.53 290.30,1387.51 291.74,1389.12 293.73,1388.27 295.03,1390.01 297.08,1389.33 298.22,1391.17 300.33,1390.68 301.31,1392.61 303.45,1392.30 304.25,1394.31 306.42,1394.19 307.04,1396.26 309.20,1396.33 309.65,1398.45 311.80,1398.70 312.05,1400.85 314.17,1401.30 314.24,1403.46 316.31,1404.08 316.19,1406.25 318.20,1407.05 317.89,1409.19 319.82,1410.17 319.33,1412.28 321.17,1413.42 320.49,1415.47 322.23,1416.77 321.38,1418.76 322.99,1420.20 321.97,1422.11 323.45,1423.69 322.26,1425.50" fill="#2b3350"/>
<circle cx="283.3" cy="1427.2" r="36.6" fill="#ffffff"/>
<circle cx="283.3" cy="1427.2" r="27.6" fill="#2b3350"/>
<path id="sealt" d="M258.20 1442.89 A29.6 29.6 0 1 1 308.40 1442.89" fill="none"/>
<path id="sealb" d="M252.22 1443.73 A35.2 35.2 0 0 0 314.38 1443.73" fill="none"/>
<text font-size="7.0" font-family="Liberation Serif" font-weight="bold" fill="#2b3350" text-anchor="middle"><textPath href="#sealt" startOffset="50%" textLength="121" lengthAdjust="spacing">UNIVERSITAS CLAUDIOPOLITANA</textPath></text>
<text font-size="7.0" font-family="Liberation Serif" font-weight="bold" fill="#2b3350" text-anchor="middle"><textPath href="#sealb" startOffset="50%" textLength="64" lengthAdjust="spacing">• BABEȘ-BOLYAI •</textPath></text>
<g fill="#ffffff"><path d="M273 1414 V1405 H274.3 V1403.4 H275.6 V1405 H276.4 V1403.4 H277.7 V1405 H278.6 V1414 Z"/><path d="M280.5 1414 V1405 H281.8 V1403.4 H283.1 V1405 H283.9 V1403.4 H285.2 V1405 H286.1 V1414 Z"/><path d="M288 1414 V1405 H289.3 V1403.4 H290.6 V1405 H291.4 V1403.4 H292.7 V1405 H293.6 V1414 Z"/></g>
<path d="M265 1418 H268.5 V1436.5 H282.5 Q283.3 1437.8 284.1 1436.5 H298.1 V1418 H301.6 V1439 H265 Z" fill="#ffffff"/>
<path d="M269.6 1415.6 Q276 1414.6 283.3 1416.2 Q290.6 1414.6 297 1415.6 V1434.3 Q290.6 1433.4 283.3 1435 Q276 1433.4 269.6 1434.3 Z" fill="#ffffff"/>
<g stroke="#2b3350" stroke-width="1.1"><line x1="272" x2="294.5" y1="1420.5" y2="1420.5"/><line x1="272" x2="294.5" y1="1424.8" y2="1424.8"/><line x1="272" x2="294.5" y1="1429.1" y2="1429.1"/></g>
<g stroke="#8890a8" stroke-width="0.5"><line x1="266.5" x2="300" y1="1437.5" y2="1437.5"/></g>
<text x="283.3" y="1446" font-size="6.4" font-family="Liberation Serif" fill="#ffffff" text-anchor="middle" font-style="italic">1581</text>
<text x="283.3" y="1451.3" font-size="4.6" font-family="Liberation Serif" fill="#d8dbe4" text-anchor="middle" letter-spacing="0.5">ROMÂNIA</text>
<text x="331.05" y="1402.80" font-size="16.57" font-weight="normal" font-style="normal" fill="#3e4459" stroke="#3e4459" stroke-width="0.35" stroke-linejoin="round" textLength="108.99" lengthAdjust="spacingAndGlyphs" font-family="Liberation Serif">UNIVERSITATEA BABEȘ-BOLYAI</text>
<text x="331.00" y="1418.80" font-size="16.57" font-weight="normal" font-style="normal" fill="#3e4459" stroke="#3e4459" stroke-width="0.35" stroke-linejoin="round" textLength="126.10" lengthAdjust="spacingAndGlyphs" font-family="Liberation Serif">BABEȘ-BOLYAI TUDOMÁNYEGYETEM</text>
<text x="331.00" y="1434.60" font-size="16.57" font-weight="normal" font-style="normal" fill="#3e4459" stroke="#3e4459" stroke-width="0.35" stroke-linejoin="round" textLength="99.12" lengthAdjust="spacingAndGlyphs" font-family="Liberation Serif">BABEȘ-BOLYAI UNIVERSITÄT</text>
<text x="331.00" y="1450.10" font-size="16.57" font-weight="normal" font-style="normal" fill="#3e4459" stroke="#3e4459" stroke-width="0.35" stroke-linejoin="round" textLength="95.88" lengthAdjust="spacingAndGlyphs" font-family="Liberation Serif">BABEȘ-BOLYAI UNIVERSITY</text>
<rect x="331" y="1454" width="127.6" height="0.8" fill="#d8d8d8"/>
<text x="331.05" y="1463.20" font-size="8.43" font-weight="normal" font-style="normal" fill="#4a5062" textLength="85.96" lengthAdjust="spacingAndGlyphs">TRADITIO ET EXCELLENTIA</text>
<text x="504.41" y="1429.00" font-size="41.57" font-weight="normal" font-style="normal" fill="#aaa49c" stroke="#aaa49c" stroke-width="0.90" stroke-linejoin="round" textLength="63.73" lengthAdjust="spacingAndGlyphs">UBB</text>
<text x="566.07" y="1429.00" font-size="41.57" font-weight="normal" font-style="normal" fill="#a8191f" stroke="#a8191f" stroke-width="0.90" stroke-linejoin="round" textLength="18.12" lengthAdjust="spacingAndGlyphs">F</text>
<text x="584.61" y="1429.00" font-size="41.57" font-weight="normal" font-style="normal" fill="#2c3f8e" stroke="#2c3f8e" stroke-width="0.90" stroke-linejoin="round" textLength="40.70" lengthAdjust="spacingAndGlyphs">SE</text>
<text x="625.53" y="1429.00" font-size="41.57" font-weight="normal" font-style="normal" fill="#a8191f" stroke="#a8191f" stroke-width="0.90" stroke-linejoin="round" textLength="42.23" lengthAdjust="spacingAndGlyphs">GA</text>
<text x="506.47" y="1437.10" font-size="4.07" font-weight="normal" font-style="normal" fill="#3a4a90" textLength="160.60" lengthAdjust="spacingAndGlyphs">Universitatea Babeș-Bolyai | Facultatea de Științe Economice și Gestiunea Afacerilor</text>
<g transform="translate(535 1438) scale(0.10884)"><path d="M210,105 C160,70 80,120 62,190 C50,250 110,262 180,240 C240,222 280,185 300,160 C295,200 305,232 330,218 C355,205 380,180 400,160 C398,195 400,225 418,235 M485,212 C510,195 545,185 560,215 C568,235 575,245 590,240 C640,215 700,180 735,170 C745,172 742,185 730,185 M795,232 C820,205 845,175 870,160 C880,175 890,200 905,215 C930,190 960,160 1000,150 C1010,170 1015,200 1035,218 C1080,200 1150,175 1180,140 C1190,120 1160,112 1130,125 C1100,140 1085,190 1110,225 C1150,245 1250,240 1390,240 M818,68 L828,90" fill="none" stroke="#1f3275" stroke-width="24" stroke-linecap="round" stroke-linejoin="round"/></g>
<path d="M695.5 1391.5 L707.5 1403.5 L695.5 1415.5 L683.5 1403.5 Z" fill="#d3ddef"/>
<path d="M695.8 1411 L701.5 1416.7 L695.8 1422.4 L690.1 1416.7 Z" fill="#d3ddef"/>
<rect x="696.6" y="1420" width="1.6" height="30" fill="#d3ddef"/>
<text x="675.09" y="1432.80" font-size="14.39" font-weight="normal" font-style="normal" fill="#2a3a7a" stroke="#2a3a7a" stroke-width="0.20" stroke-linejoin="round" textLength="45.84" lengthAdjust="spacingAndGlyphs">FSEGA</text>
<g fill="none" stroke-linecap="round">
<path d="M694.3 1390.3 C699.5 1395 697.5 1401 694.5 1404.5 C692 1407.5 693.5 1410.5 697.5 1412.5 C701 1414.5 705 1417 710 1420" stroke="#1f3275" stroke-width="1.6"/>
<path d="M696 1390.8 C699.5 1395.5 699 1400 695.8 1402.5" stroke="#f2c21a" stroke-width="1.1"/>
<path d="M699.5 1396.5 C702.5 1399.5 701.5 1404 697.8 1406.5" stroke="#d7182a" stroke-width="1.7"/>
<path d="M690.6 1402 C690.4 1405.5 691.8 1408.5 694.5 1410" stroke="#d7182a" stroke-width="1.9"/>
<path d="M697.5 1410 C701 1411.8 704.5 1413.2 708.5 1414.5" stroke="#f2c21a" stroke-width="1"/>
<path d="M697 1412.5 C701 1415 705.5 1417.5 710.5 1420" stroke="#d7182a" stroke-width="0.6"/>
</g>
<text x="684.61" y="1439.00" font-size="4.22" font-weight="normal" font-style="normal" fill="#6a7392" textLength="27.00" lengthAdjust="spacingAndGlyphs">CLUJ-NAPOCA</text>
<path d="M686 1441.8 H696 L695.5 1446.7 H688.5 Z M699.3 1441.8 H709.9 L707.3 1446.7 H699.8 Z" fill="#b3201f"/>
<g stroke="#ffffff" stroke-width="0.45"><line x1="687" x2="695" y1="1443.4" y2="1443.4"/><line x1="687.5" x2="695" y1="1445" y2="1445"/><line x1="700.5" x2="708.8" y1="1443.4" y2="1443.4"/><line x1="700.5" x2="708" y1="1445" y2="1445"/></g>
<text transform="translate(838.65 1417.60) scale(0.950 1)" x="0" y="0" font-size="28.92" font-weight="normal" font-style="normal" fill="#1b263a" stroke="#1b263a" stroke-width="1.10" stroke-linejoin="round" letter-spacing="1.818" style="white-space:pre">Romanian</text>
<text transform="translate(978.75 1417.60) scale(0.950 1)" x="0" y="0" font-size="28.92" font-weight="normal" font-style="normal" fill="#1b263a" stroke="#1b263a" stroke-width="1.10" stroke-linejoin="round" letter-spacing="1.749" style="white-space:pre">Economic</text>
<text transform="translate(1114.75 1417.60) scale(0.950 1)" x="0" y="0" font-size="28.92" font-weight="normal" font-style="normal" fill="#1b263a" stroke="#1b263a" stroke-width="1.10" stroke-linejoin="round" letter-spacing="2.085" style="white-space:pre">Monitor</text>
<text transform="translate(888.09 1452.10) scale(0.970 1)" x="0" y="0" font-size="29.36" font-weight="normal" font-style="normal" fill="#1b263a" stroke="#1b263a" stroke-width="0.30" stroke-linejoin="round" letter-spacing="0.799" style="white-space:pre">econ.ubbcluj.ro/roem</text>
</svg>
</body></html>
